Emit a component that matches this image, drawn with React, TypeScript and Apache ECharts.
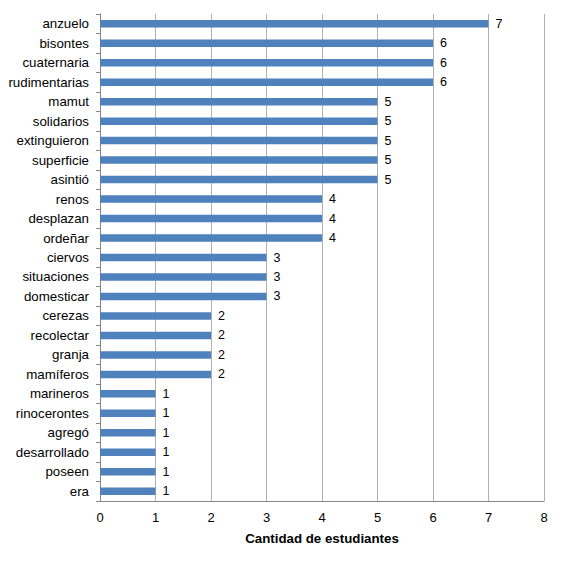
import React, { useEffect, useRef } from 'react';
import * as echarts from 'echarts';

// Palabras (de arriba hacia abajo) y cantidad de estudiantes
const palabras = [
  'anzuelo', 'bisontes', 'cuaternaria', 'rudimentarias', 'mamut', 'solidarios',
  'extinguieron', 'superficie', 'asintió', 'renos', 'desplazan', 'ordeñar',
  'ciervos', 'situaciones', 'domesticar', 'cerezas', 'recolectar', 'granja',
  'mamíferos', 'marineros', 'rinocerontes', 'agregó', 'desarrollado', 'poseen', 'era',
];
const cantidades = [7, 6, 6, 6, 5, 5, 5, 5, 5, 4, 4, 4, 3, 3, 3, 2, 2, 2, 2, 1, 1, 1, 1, 1, 1];

const FONT = 'Liberation Sans, Arial, sans-serif';

const App: React.FC = () => {
  const chartRef = useRef<HTMLDivElement>(null);

  useEffect(() => {
    if (!chartRef.current) return;
    const chart = echarts.init(chartRef.current, undefined, { renderer: 'svg' });

    chart.setOption({
      animation: false,
      grid: { left: 100, right: 19, top: 14, bottom: 60, containLabel: false },
      xAxis: {
        type: 'value',
        min: 0,
        max: 8,
        interval: 1,
        name: 'Cantidad de estudiantes',
        nameLocation: 'middle',
        nameGap: 31,
        nameTextStyle: { fontFamily: FONT, fontSize: 13.3, fontWeight: 'bold', color: '#000' },
        axisLine: { show: true, lineStyle: { color: '#868686' } },
        axisTick: { show: false },
        axisLabel: { fontFamily: FONT, fontSize: 13, color: '#000', margin: 10 },
        splitLine: { show: true, lineStyle: { color: '#b0b0b0' } },
      },
      yAxis: {
        type: 'category',
        data: palabras,
        inverse: true,
        axisLine: { show: true, lineStyle: { color: '#868686' } },
        axisTick: { show: true, length: 4, lineStyle: { color: '#868686' } },
        axisLabel: { fontFamily: FONT, fontSize: 13.3, color: '#000', margin: 11 },
        splitLine: { show: false },
      },
      series: [
        {
          type: 'bar',
          data: cantidades,
          barWidth: 7.5,
          itemStyle: { color: '#4f81bd' },
          label: {
            show: true,
            position: 'right',
            distance: 7,
            fontFamily: FONT,
            fontSize: 12.5,
            color: '#000',
          },
        },
      ],
    });

    return () => {
      chart.dispose();
    };
  }, []);

  return <div ref={chartRef} style={{ width: 563, height: 561, margin: -8, background: '#fff' }} />;
};

export default App;
